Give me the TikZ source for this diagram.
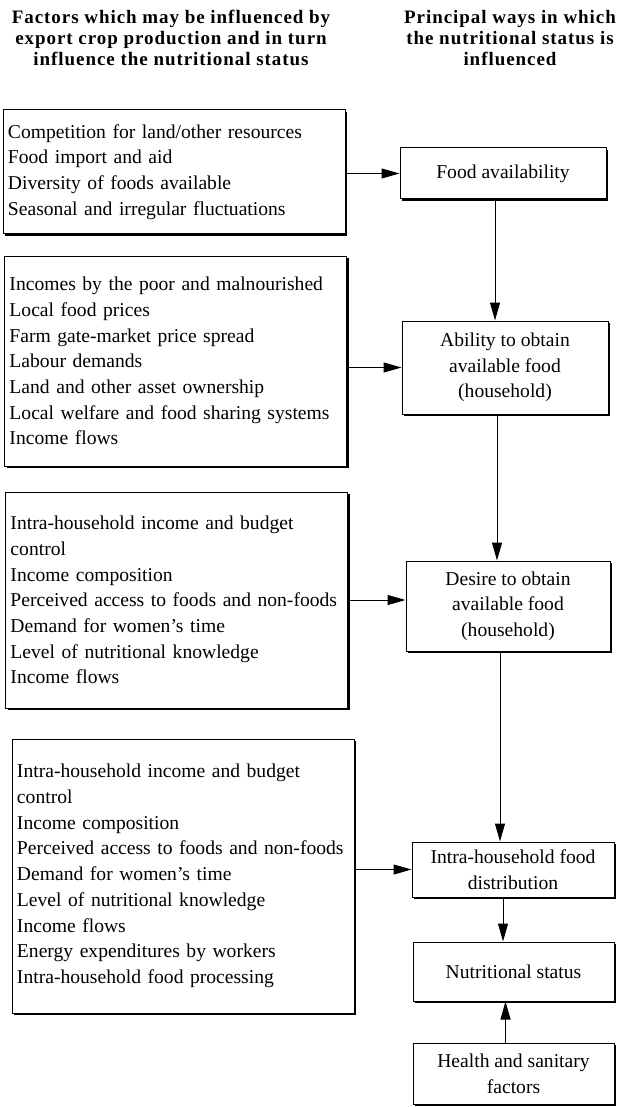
\documentclass[tikz,border=0pt]{standalone}
\usepackage{fontspec}
\setmainfont{Liberation Serif}
\newfontfamily\headfont[LetterSpace=5]{Liberation Serif}
\usetikzlibrary{arrows.meta,shadows}
\begin{document}
\begin{tikzpicture}[x=0.5pt,y=-0.5pt,font={\fontsize{9.8}{12.85}\selectfont},
  factors/.style={draw,line width=0.5pt,fill=white,text width=166pt,align=left,
    inner xsep=2.5pt,inner ysep=0pt,
    drop shadow={shadow xshift=1.2pt,shadow yshift=-1.2pt,fill=black,opacity=1}},
  ways/.style={draw,line width=0.5pt,fill=white,align=center,inner sep=0pt,
    drop shadow={shadow xshift=1.2pt,shadow yshift=-1.2pt,fill=black,opacity=1}},
  heading/.style={font={\headfont\bfseries\fontsize{9.5}{10.6}\selectfont},align=center},
  arr/.style={-{Triangle[length=9pt,width=5pt]},line width=0.5pt}]
\useasboundingbox (0,0) rectangle (618,1107);

\node[heading] (hleft) at (171,38) {Factors which may be influenced by\\export crop production and in turn\\influence the nutritional status};
\node[heading] (hright) at (510,38) {Principal ways in which\\the nutritional status is\\influenced};

\node[factors,minimum height=62pt] (f1) at (174,172) {Competition for land/other resources\\Food import and aid\\Diversity of foods available\\Seasonal and irregular fluctuations};
\node[factors,minimum height=105pt] (f2) at (175.5,361) {Incomes by the poor and malnourished\\Local food prices\\Farm gate-market price spread\\Labour demands\\Land and other asset ownership\\Local welfare and food sharing systems\\Income flows};
\node[factors,minimum height=108pt] (f3) at (176.5,600) {Intra-household income and budget\\control\\Income composition\\\mbox{Perceived access to foods and non-foods}\\Demand for women's time\\Level of nutritional knowledge\\Income flows};
\node[factors,minimum height=137pt] (f4) at (183,876) {Intra-household income and budget\\control\\Income composition\\\mbox{Perceived access to foods and non-foods}\\Demand for women's time\\Level of nutritional knowledge\\Income flows\\Energy expenditures by workers\\Intra-household food processing};

\node[ways,minimum width=103pt,minimum height=25.5pt] (fa) at (503,173.5) {Food availability};
\node[ways,minimum width=103pt,minimum height=46.5pt] (abil) at (505,367.5) {Ability to obtain\\available food\\(household)};
\node[ways,minimum width=102pt,minimum height=45pt] (desire) at (508,606) {Desire to obtain\\available food\\(household)};
\node[ways,minimum width=101pt,minimum height=27.5pt] (intra) at (513,869.5) {Intra-household food\\distribution};
\node[ways,minimum width=100.5pt,minimum height=29.5pt] (ns) at (513.5,971.5) {Nutritional status};
\node[ways,minimum width=100.5pt,minimum height=30.5pt] (health) at (513.5,1073.5) {Health and sanitary\\factors};

\draw[arr] (f1.east |- fa.west) to (fa.west);
\draw[arr] (f2.east |- abil.west) to (abil.west);
\draw[arr] (f3.east) to (f3.east -| desire.west);
\draw[arr] (f4.east |- intra.west) to (intra.west);

\draw[arr] ([xshift=-4pt]fa.south) to ([xshift=-4pt]fa.south |- abil.north);
\draw[arr] ([xshift=-4pt]abil.south) to ([xshift=-4pt]abil.south |- desire.north);
\draw[arr] ([xshift=-4pt]desire.south) to ([xshift=-4pt]desire.south |- intra.north);
\draw[arr] ([xshift=-5pt]intra.south) to ([xshift=-5pt]intra.south |- ns.north);
\draw[arr] ([xshift=-4pt]health.north) to ([xshift=-4pt]health.north |- ns.south);
\end{tikzpicture}
\end{document}
